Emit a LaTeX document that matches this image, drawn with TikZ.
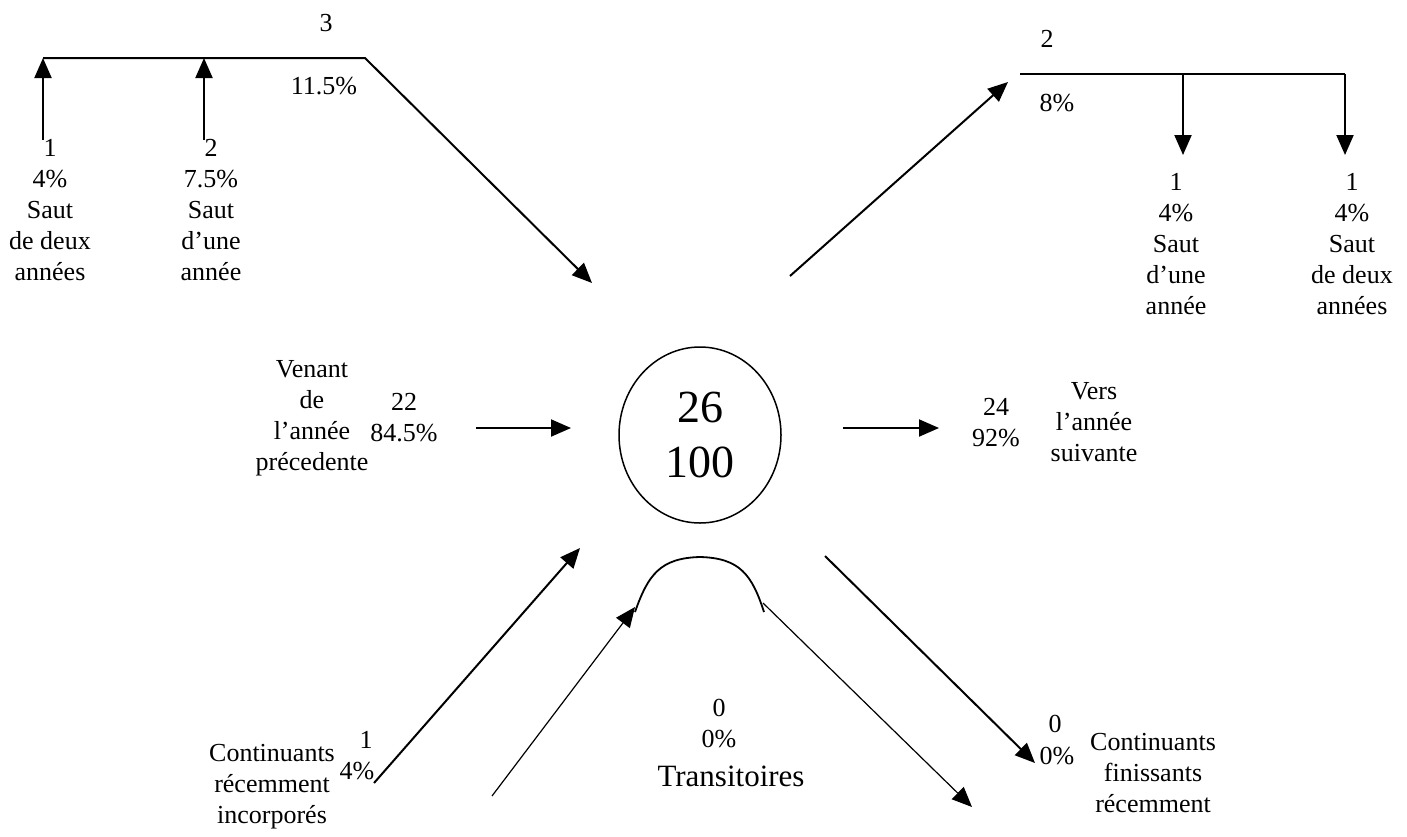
\documentclass[tikz,border=0pt]{standalone}
\usepackage{fontspec}
\setmainfont{Liberation Serif}
\usetikzlibrary{arrows.meta,shapes.geometric}
\begin{document}
\begin{tikzpicture}[x=1pt,y=-1pt,
  txt/.style={align=center,inner sep=0pt,font=\fontsize{26}{31}\selectfont},
  bigtxt/.style={align=center,inner sep=0pt,font=\fontsize{31}{36}\selectfont},
  thick arrow/.style={-{Triangle[length=20pt,width=17pt]},line width=2pt},
  thin arrow/.style={-{Triangle[length=20pt,width=17pt]},line width=1.2pt},
  plain line/.style={line width=2pt}]
\useasboundingbox (0,0) rectangle (1407,836);

% ---------- centre
\node[draw,ellipse,line width=1.5pt,minimum width=162pt,minimum height=176pt,inner sep=0pt,
      align=center,font=\fontsize{46}{55}\selectfont] (c) at (700,435) {26\\100};

% ---------- top left
\coordinate (tlA) at (43,140);  \coordinate (tlAt) at (43,58);
\coordinate (tlB) at (204,140); \coordinate (tlBt) at (204,58);
\coordinate (tlL) at (43,58);   \coordinate (tlR) at (365,58);
\coordinate (tlT) at (592,283);
\draw[thick arrow] (tlL) -- (tlR) -- (tlT);
\draw[thick arrow] (tlA) -- (tlAt);
\draw[thick arrow] (tlB) -- (tlBt);
\node[txt] (n3) at (326,23) {3};
\node[txt] (n115) at (324,86) {11.5\%};
\node[txt] (lab1) at (50,210) {1\\4\%\\Saut\\de deux\\années};
\node[txt] (lab2) at (211,210) {2\\7.5\%\\Saut\\d’une\\année};

% ---------- top right
\coordinate (trS) at (790,276); \coordinate (trT) at (1008,82);
\coordinate (trL) at (1020,74); \coordinate (trM) at (1183,74); \coordinate (trR) at (1345,74);
\coordinate (trMb) at (1183,155); \coordinate (trRb) at (1345,155);
\draw[thick arrow] (trS) -- (trT);
\draw[plain line] (trL) -- (trR);
\draw[thick arrow] (trM) -- (trMb);
\draw[thick arrow] (trR) -- (trRb);
\node[txt] (n2) at (1047,39) {2};
\node[txt] (n8) at (1057,103) {8\%};
\node[txt] (lab3) at (1176,244) {1\\4\%\\Saut\\d’une\\année};
\node[txt] (lab4) at (1352,244) {1\\4\%\\Saut\\de deux\\années};

% ---------- middle
\coordinate (mlS) at (476,428); \coordinate (mlT) at (571,428);
\coordinate (mrS) at (843,428); \coordinate (mrT) at (939,428);
\draw[thick arrow] (mlS) -- (mlT);
\draw[thick arrow] (mrS) -- (mrT);
\node[txt] (ven) at (312,418) {Venant\\de\\l’année\\précedente};
\node[txt] (n22) at (404,418) {22\\84.5\%};
\node[txt] (n24) at (996,423) {24\\92\%};
\node[txt] (vers) at (1094,422) {Vers\\l’année\\suivante};

% ---------- bottom
\coordinate (b1S) at (374,783); \coordinate (b1T) at (580,548);
\coordinate (b2S) at (492,796); \coordinate (b2T) at (635,607);
\coordinate (arcA) at (635,612); \coordinate (arcTop) at (700,557); \coordinate (arcB) at (764,612);
\coordinate (b3S) at (763,603); \coordinate (b3T) at (972,807);
\coordinate (b4S) at (825,556); \coordinate (b4T) at (1035,763);
\draw[thick arrow] (b1S) -- (b1T);
\draw[thin arrow] (b2S) -- (b2T);
\draw[line width=1.8pt] (arcA) .. controls (648,575) and (660,558) .. (arcTop)
                      .. controls (740,558) and (752,575) .. (arcB);
\draw[thin arrow] (b3S) -- (b3T);
\draw[thick arrow] (b4S) -- (b4T);

\node[txt] (nb1) at (366,740) {1};
\node[txt] (nb4) at (357,771) {4\%};
\node[txt] (cri) at (272,787) {Continuants\\récemment\\incorporés};
\node[txt] (nt0) at (719,724) {0\\0\%};
\node[bigtxt] (tra) at (731,776) {Transitoires};
\node[txt] (nf0) at (1055,724) {0};
\node[txt] (nf0p) at (1057,756) {0\%};
\node[txt] (cfr) at (1153,773) {Continuants\\finissants\\récemment};
\end{tikzpicture}
\end{document}
